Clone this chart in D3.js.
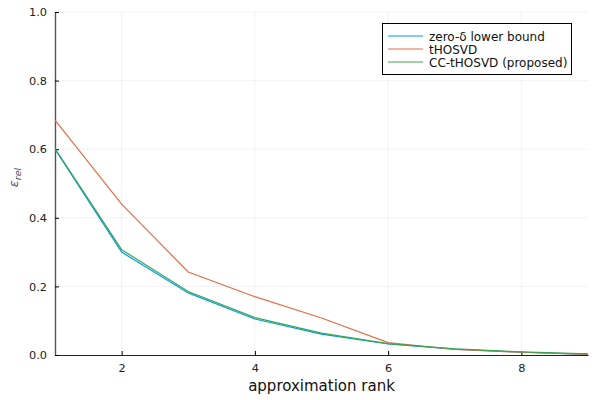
<!DOCTYPE html>
<html>
<head>
<meta charset="utf-8">
<script src="https://cdn.jsdelivr.net/npm/d3@7"></script>
<style>
  body { margin: 0; background: #fff; }
  text { font-family: "DejaVu Sans", sans-serif; }
</style>
</head>
<body>
<div id="chart-area"></div>
<script>
// data
var ranks = [1, 2, 3, 4, 5, 6, 7, 8, 9];
var seriesNames = ["zero-δ lower bound", "tHOSVD", "CC-tHOSVD (proposed)"];
var seriesColors = ["#009AFA", "#E36F47", "#3EA44E"];
var lowerBound = [0.600, 0.300, 0.181, 0.105, 0.061, 0.032, 0.017, 0.008, 0.002];
var thosvd     = [0.685, 0.440, 0.242, 0.170, 0.108, 0.036, 0.016, 0.008, 0.002];
var ccThosvd   = [0.602, 0.307, 0.185, 0.109, 0.064, 0.033, 0.018, 0.009, 0.003];
var xTicks = [2, 4, 6, 8];
var yTicks = [0, 0.2, 0.4, 0.6, 0.8, 1.0];

var margin = { top: 12, right: 12, bottom: 45, left: 55 };
var width = 600 - margin.left - margin.right;
var height = 400 - margin.top - margin.bottom;

var svg = d3.select("#chart-area").append("svg")
    .attr("width", 600)
    .attr("height", 400)
    .append("g")
    .attr("transform", "translate(" + margin.left + "," + margin.top + ")");

var xScale = d3.scaleLinear().domain([1, 9]).range([0, width]);
var yScale = d3.scaleLinear().domain([0, 1]).range([height, 0]);

// grid
svg.append("g").selectAll("line.vgrid")
    .data(xTicks).enter().append("line")
    .attr("x1", d => xScale(d)).attr("x2", d => xScale(d))
    .attr("y1", 0).attr("y2", height)
    .attr("stroke", "#000").attr("stroke-opacity", 0.1).attr("stroke-width", 0.5);
svg.append("g").selectAll("line.hgrid")
    .data(yTicks.slice(1)).enter().append("line")
    .attr("x1", 0).attr("x2", width)
    .attr("y1", d => yScale(d)).attr("y2", d => yScale(d))
    .attr("stroke", "#000").attr("stroke-opacity", 0.1).attr("stroke-width", 0.5);

// axes, ticks pointing inward
var xAxis = svg.append("g")
    .attr("transform", "translate(0," + height + ")")
    .call(d3.axisBottom(xScale).tickValues(xTicks).tickSizeInner(-4).tickSizeOuter(0).tickPadding(9).tickFormat(d3.format("d")));
var yAxis = svg.append("g")
    .call(d3.axisLeft(yScale).tickValues(yTicks).tickSizeInner(-4).tickSizeOuter(0).tickPadding(8).tickFormat(d3.format(".1f")));
[xAxis, yAxis].forEach(function (ax) {
    ax.select(".domain").attr("stroke", "#222");
    ax.selectAll(".tick line").attr("stroke", "#000");
    ax.selectAll(".tick text").attr("font-size", 11.3).attr("fill", "#222")
        .style("font-family", "DejaVu Sans, sans-serif");
});
yAxis.select(".domain").attr("stroke", "#555").attr("stroke-width", 1.4);

svg.append("text")
    .attr("x", width / 2)
    .attr("y", height + 36)
    .style("text-anchor", "middle")
    .attr("font-size", 15)
    .attr("fill", "#111")
    .text("approximation rank");

var ylab = svg.append("text")
    .attr("transform", "translate(" + (-37) + "," + (height / 2 - 6) + ") rotate(-90)")
    .style("text-anchor", "middle")
    .attr("font-size", 13)
    .attr("fill", "#555")
    .style("font-style", "italic");
ylab.append("tspan").text("ε");
ylab.append("tspan").attr("font-size", 9.5).attr("dy", 3).text("rel");

// lines
var line = d3.line()
    .x(function (d, i) { return xScale(ranks[i]); })
    .y(function (d) { return yScale(d); });

[lowerBound, thosvd, ccThosvd].forEach(function (s, i) {
    svg.append("path")
        .datum(s)
        .attr("fill", "none")
        .attr("stroke", seriesColors[i])
        .attr("stroke-width", 1.2)
        .attr("d", line);
});

// legend
var legend = svg.append("g").attr("transform", "translate(" + (382 - margin.left) + "," + (23 - margin.top) + ")");
legend.append("rect")
    .attr("x", 0.5).attr("y", 0.5)
    .attr("width", 189).attr("height", 51)
    .attr("fill", "#fff").attr("stroke", "#000").attr("stroke-width", 1);
seriesNames.forEach(function (name, i) {
    var yy = 13 + i * 13;
    legend.append("line")
        .attr("x1", 6).attr("x2", 41)
        .attr("y1", yy).attr("y2", yy)
        .attr("stroke", seriesColors[i]).attr("stroke-width", 1.2);
    legend.append("text")
        .attr("x", 47).attr("y", yy + 4.5)
        .attr("font-size", 12).attr("fill", "#111")
        .text(name);
});
</script>
</body>
</html>
